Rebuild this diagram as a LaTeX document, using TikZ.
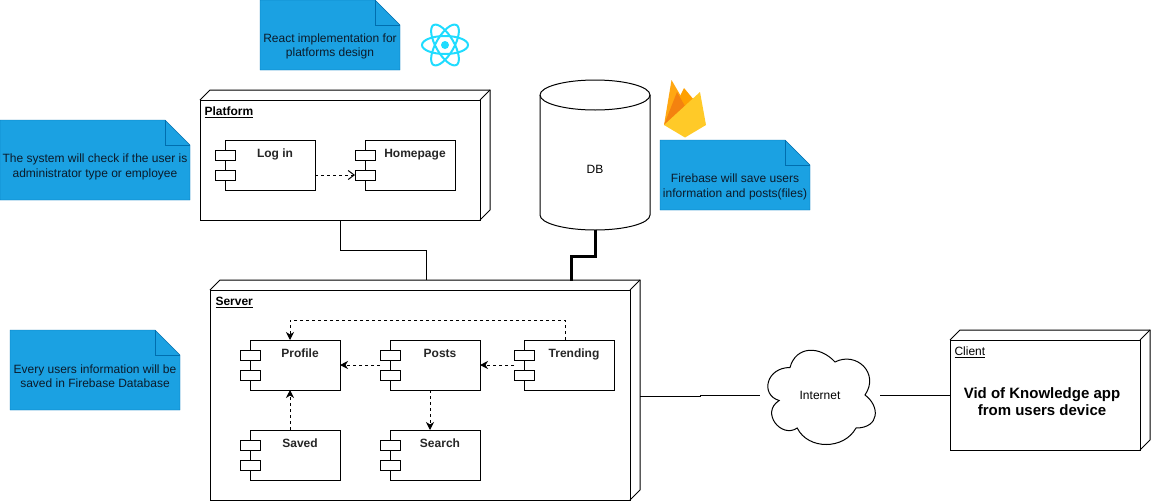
\documentclass[tikz,border=0pt]{standalone}
\usepackage{fontspec}
\setmainfont{Liberation Sans}
\usetikzlibrary{positioning,arrows.meta,backgrounds}
\definecolor{notefill}{HTML}{1BA1E2}
\definecolor{noteline}{HTML}{006EAF}
\definecolor{notetext}{HTML}{0B1B2B}
\definecolor{reactblue}{HTML}{1FDCFF}
\definecolor{firelight}{HTML}{FFA712}
\definecolor{firemid}{HTML}{FFA000}
\definecolor{firedark}{HTML}{F4820F}
\definecolor{firefront}{HTML}{FFCA28}
\tikzset{
    nodebox/.style={draw, inner sep=0pt, outer sep=0pt},
    compbox/.style={draw, fill=white, inner sep=0pt, outer sep=0pt, minimum width=90pt, minimum height=50pt},
    portbox/.style={draw, fill=white, inner sep=0pt, outer sep=0pt, minimum width=20pt, minimum height=10pt},
    comptext/.style={font=\fontsize{12pt}{14pt}\selectfont\bfseries, inner sep=0pt, text height=9pt, text depth=3pt, xshift=5pt, yshift=11pt, text=black!85},
    nodetitle/.style={font=\fontsize{12pt}{14pt}\selectfont\bfseries, inner sep=0pt, anchor=west},
    notebox/.style={inner sep=0pt, outer sep=0pt},
    notetitle/.style={font=\fontsize{12pt}{14.4pt}\selectfont, align=center, inner sep=0pt, text=notetext},
    depline/.style={dash pattern=on 3pt off 3pt, -{Stealth[length=8pt,width=8pt,inset=2.5pt]}},
}
\begin{document}
\begin{tikzpicture}[x=1pt,y=-1pt,line width=1pt]
    \useasboundingbox (0,0) rectangle (1151,501);

    \node[nodebox, minimum width=280pt, minimum height=120pt] (platform) at (340,160) {};
    \node[nodebox, minimum width=420pt, minimum height=210pt] (server) at (420,395) {};
    \node[nodebox, minimum width=190pt, minimum height=110pt] (client) at (1045,395) {};
    \foreach \n in {platform,server,client} {
        \draw (\n.north west) -- ++(10,-10) -- ([shift={(10pt,10pt)}]\n.north east) -- ([shift={(10pt,10pt)}]\n.south east) -- (\n.south east);
        \draw (\n.north east) -- ++(10,-10);
    }
    \node[nodetitle] (platformtitle) at (204,112.5) {\underline{Platform}};
    \node[nodetitle] (servertitle) at (215,302.5) {\underline{Server}};
    \node[nodetitle, font=\fontsize{12pt}{14pt}\selectfont] (clienttitle) at (954,352.5) {\underline{Client}};
    \node[font=\fontsize{15pt}{17pt}\selectfont\bfseries, align=center, inner sep=0pt] (clienttext) at (1042,401.5) {Vid of Knowledge app\\from users device};

    \node[compbox, label={[comptext]center:Log in}] (login) at (270,165) {};
    \node[compbox, label={[comptext]center:Homepage}] (homepage) at (410,165) {};
    \node[compbox, label={[comptext]center:Profile}] (profile) at (295,365) {};
    \node[compbox, label={[comptext]center:Posts}] (posts) at (435,365) {};
    \node[compbox, label={[comptext]center:Trending}] (trending) at (569,365) {};
    \node[compbox, label={[comptext]center:Saved}] (saved) at (295,455) {};
    \node[compbox, label={[comptext]center:Search}] (search) at (435,455) {};
    \foreach \n in {login,homepage,profile,posts,trending,saved,search} {
        \node[portbox] (\n-a) at ([shift={(0pt,-15pt)}]\n.north west) {};
        \node[portbox] (\n-b) at ([shift={(0pt,-35pt)}]\n.north west) {};
    }

    \draw[dash pattern=on 3pt off 3pt, -{Straight Barb[length=6pt,width=9pt]}] (login.east |- homepage-b.west) -- (homepage-b.west);
    \draw[depline] (posts-a.west |- posts.west) -- (profile.east);
    \draw[depline] (trending-a.west |- trending.west) -- (posts.east);
    \draw[depline] ([xshift=-5pt]saved.north) -- ([xshift=-5pt]profile.south);
    \draw[depline] ([xshift=-5pt]posts.south) -- ([xshift=-5pt]search.north);
    \draw[depline] ([xshift=-4pt]trending.north) -- ++(0,-20) -| ([xshift=-5pt]profile.north);

    \node[inner sep=0pt, outer sep=0pt, minimum width=110pt, minimum height=150pt, label={[font=\fontsize{12pt}{14pt}\selectfont, inner sep=0pt, yshift=-14pt]center:DB}] (db) at (595,155) {};
    \begin{scope}[shift={(db.north west)}]
        \draw (0,15) arc[start angle=180, end angle=360, x radius=55, y radius=15] -- (110,135) arc[start angle=0, end angle=180, x radius=55, y radius=15] -- cycle;
        \draw (0,15) arc[start angle=180, end angle=0, x radius=55, y radius=15];
    \end{scope}

    \coordinate (serverplatform) at (426,280);
    \coordinate (serverdb) at (571,281);
    \coordinate (serverright) at (640,396);
    \draw (platform.south) -- ++(0,30) -| (serverplatform);
    \draw[line width=3pt] (db.south) -- ++(0,26) -| (serverdb);

    \node[inner sep=0pt, outer sep=0pt, minimum width=120pt, minimum height=110pt, font=\fontsize{12pt}{14pt}\selectfont] (internet) at (820,395) {Internet};
    \begin{scope}[shift={(internet.north west)}, x=1.2pt, y=-1.1pt]
        \draw (25,25) .. controls (5,25) and (0,50) .. (16,55)
            .. controls (0,66) and (18,90) .. (31,80)
            .. controls (40,100) and (70,100) .. (80,80)
            .. controls (100,80) and (100,60) .. (87.5,50)
            .. controls (100,30) and (80,10) .. (62.5,20)
            .. controls (50,5) and (30,5) .. (25,25) -- cycle;
    \end{scope}
    \draw (serverright) -- ++(60,0) |- (internet.west);
    \draw (internet.east) -- (client.west);

    \node[notebox, minimum width=140pt, minimum height=70pt, label={[notetitle, yshift=-11.5pt]center:React implementation for\\platforms design}] (reactnote) at (330,35) {};
    \node[notebox, minimum width=150pt, minimum height=70pt, label={[notetitle, yshift=-12pt]center:Firebase will save users\\information and posts(files)}] (firebasenote) at (735,175) {};
    \node[notebox, minimum width=190pt, minimum height=80pt, label={[notetitle, yshift=-7pt]center:The system will check if the user is\\administrator type or employee}] (systemnote) at (95,160) {};
    \node[notebox, minimum width=170pt, minimum height=80pt, label={[notetitle, yshift=-6.5pt]center:Every users information will be\\saved in Firebase Database}] (usersnote) at (95,370) {};
    \begin{scope}[on background layer]
        \foreach \n in {reactnote,firebasenote,systemnote,usersnote} {
            \filldraw[fill=notefill, draw=noteline] (\n.north west) -- ([xshift=-25pt]\n.north east) -- ([yshift=-25pt]\n.north east) -- (\n.south east) -- (\n.south west) -- cycle;
            \draw[noteline] ([xshift=-25pt]\n.north east) -- ([shift={(-25pt,-25pt)}]\n.north east) -- ([yshift=-25pt]\n.north east);
        }
    \end{scope}

    \foreach \a in {0,60,120} {
        \draw[reactblue, line width=2pt, rotate around={\a:(445,45)}] (445,45) ellipse (23 and 9);
    }
    \fill[reactblue] (445,45) circle (4);

    \fill[firelight] (664,125) -- (671.5,80) -- (682,98) -- cycle;
    \fill[firemid] (664,125) -- (680,96) -- (684,88) -- (694,100) -- cycle;
    \fill[firedark] (664,125) -- (677,92) -- (686,108) -- cycle;
    \fill[firefront] (664,125) -- (700,92) -- (706,125) -- (685,137.5) -- cycle;
\end{tikzpicture}
\end{document}
